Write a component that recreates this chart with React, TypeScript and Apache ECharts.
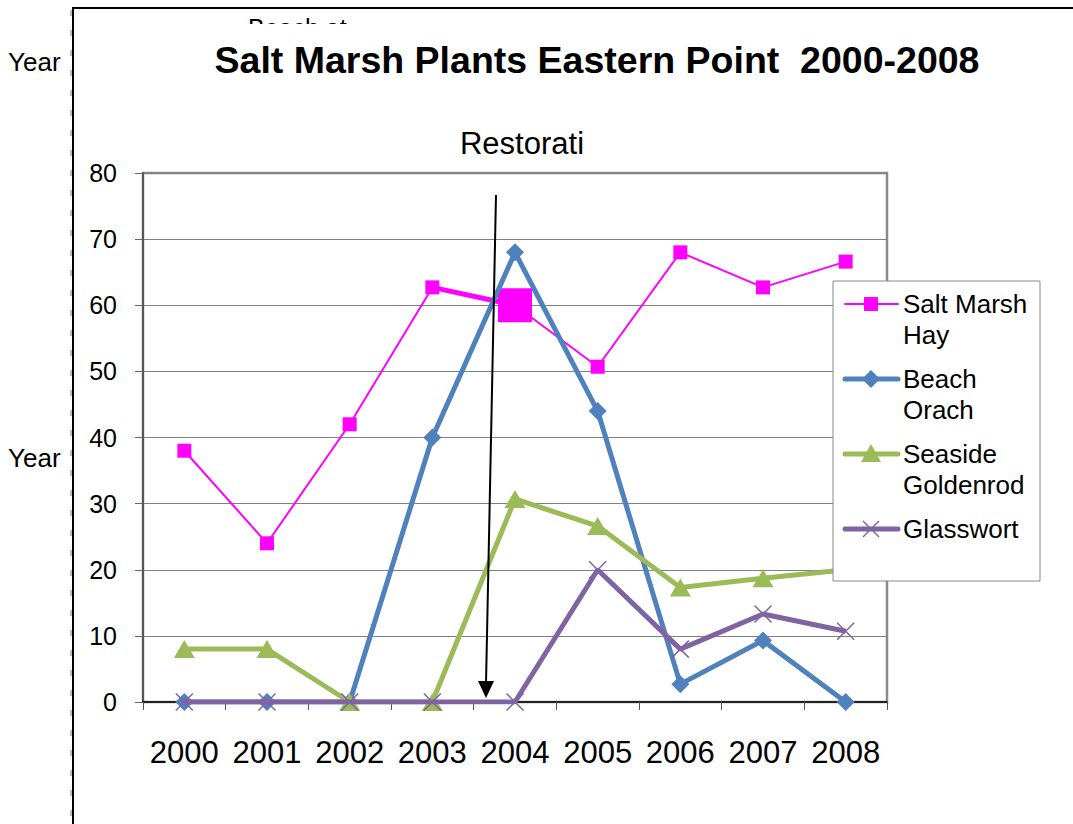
import React, { useEffect, useRef } from "react";
import * as echarts from "echarts";

const years = ["2000", "2001", "2002", "2003", "2004", "2005", "2006", "2007", "2008"];
const saltMarshHay = [38, 24, 42, 62.7, 60, 50.7, 68, 62.7, 66.6];
const beachOrach = [0, 0, 0, 40, 68, 44, 2.7, 9.3, 0];
const seasideGoldenrod = [8, 8, 0, 0, 30.7, 26.6, 17.3, 18.7, 20];
const glasswort = [0, 0, 0, 0, 0, 20, 8, 13.3, 10.7];
const yMin = 0;
const yMax = 80;
const yStep = 10;

const seriesNames = ["Salt Marsh\nHay", "Beach\nOrach", "Seaside\nGoldenrod", "Glasswort"];
const colors = ["#FF00FF", "#4F81BD", "#9BBB59", "#8064A2"];

const FONT = "'Liberation Sans', Arial, sans-serif";

export default function App() {
  const ref = useRef<HTMLDivElement>(null);
  useEffect(() => {
    if (!ref.current) return;
    const chart = echarts.init(ref.current, undefined, { renderer: "svg" });

    const legendX = 833;
    const legendY = 281;
    const rowY = [304, 379, 454, 529];
    const iconX0 = 845;
    const iconX1 = 898;
    const iconC = 871;
    const legendGraphics: any[] = [
      {
        type: "rect",
        z: 100,
        shape: { x: legendX, y: legendY, width: 207, height: 300 },
        style: { fill: "#fff", stroke: "#888", lineWidth: 1 },
      },
    ];
    const widths = [2, 5, 5, 5];
    rowY.forEach((y, i) => {
      legendGraphics.push({
        type: "line",
        z: 101,
        shape: { x1: iconX0, y1: y, x2: iconX1, y2: y },
        style: { stroke: colors[i], lineWidth: widths[i], lineCap: "round" },
      });
      if (i === 0) {
        legendGraphics.push({
          type: "rect",
          z: 102,
          shape: { x: iconC - 7, y: y - 7, width: 14, height: 14 },
          style: { fill: colors[i] },
        });
      } else if (i === 1) {
        legendGraphics.push({
          type: "polygon",
          z: 102,
          shape: { points: [[iconC, y - 9], [iconC + 9, y], [iconC, y + 9], [iconC - 9, y]] },
          style: { fill: colors[i] },
        });
      } else if (i === 2) {
        legendGraphics.push({
          type: "polygon",
          z: 102,
          shape: { points: [[iconC, y - 10], [iconC + 10, y + 8], [iconC - 10, y + 8]] },
          style: { fill: colors[i] },
        });
      } else {
        legendGraphics.push({
          type: "line",
          z: 102,
          shape: { x1: iconC - 8, y1: y - 8, x2: iconC + 8, y2: y + 8 },
          style: { stroke: colors[i], lineWidth: 1.5 },
        });
        legendGraphics.push({
          type: "line",
          z: 102,
          shape: { x1: iconC + 8, y1: y - 8, x2: iconC - 8, y2: y + 8 },
          style: { stroke: colors[i], lineWidth: 1.5 },
        });
      }
      legendGraphics.push({
        type: "text",
        z: 102,
        x: 903,
        y: y - 16,
        style: {
          text: seriesNames[i],
          fontFamily: FONT,
          fontSize: 26,
          lineHeight: 31,
          fill: "#000",
          verticalAlign: "top",
        },
      });
    });

    const option: any = {
      animation: false,
      backgroundColor: "#fff",
      grid: {
        left: 143,
        top: 173,
        width: 744,
        height: 529,
        show: true,
        borderColor: "#8a8a8a",
        borderWidth: 2.5,
        backgroundColor: "transparent",
      },
      xAxis: {
        type: "category",
        data: years,
        boundaryGap: true,
        axisLine: { show: true, lineStyle: { color: "#000", width: 1.5 } },
        axisTick: { show: true, length: 8, interval: 0, lineStyle: { color: "#555" } },
        axisLabel: { fontSize: 31, margin: 35, interval: 0, hideOverlap: false, color: "#000", fontFamily: FONT },
        splitLine: { show: false },
      },
      yAxis: {
        type: "value",
        min: yMin,
        max: yMax,
        interval: yStep,
        axisLine: { show: true, lineStyle: { color: "#444", width: 1.5 } },
        axisTick: { show: true, length: 8, lineStyle: { color: "#666" } },
        axisLabel: { fontSize: 25, margin: 26, color: "#000", fontFamily: FONT },
        splitLine: { show: true, lineStyle: { color: "#808080", width: 1 } },
      },
      series: [
        {
          name: "Salt Marsh Hay",
          type: "line",
          data: saltMarshHay.map((v, i) => (i === 4 ? { value: v, symbolSize: 34 } : v)),
          symbol: "rect",
          symbolSize: 14,
          lineStyle: { color: colors[0], width: 2 },
          itemStyle: { color: colors[0] },
          z: 2,
        },
        {
          name: "Salt Marsh Hay segment",
          type: "line",
          data: saltMarshHay.map((v, i) => (i === 3 || i === 4 ? v : null)),
          showSymbol: false,
          symbol: "none",
          lineStyle: { color: colors[0], width: 5 },
          itemStyle: { color: colors[0] },
          z: 2,
        },
        {
          name: "Beach Orach",
          type: "line",
          data: beachOrach,
          symbol: "diamond",
          symbolSize: 18,
          lineStyle: { color: colors[1], width: 5 },
          itemStyle: { color: colors[1] },
          z: 3,
        },
        {
          name: "Seaside Goldenrod",
          type: "line",
          data: seasideGoldenrod,
          symbol: "triangle",
          symbolSize: [21, 18],
          lineStyle: { color: colors[2], width: 5 },
          itemStyle: { color: colors[2] },
          z: 4,
        },
        {
          name: "Glasswort",
          type: "line",
          data: glasswort,
          symbol: "path://M0,0L16,16M16,0L0,16",
          symbolSize: 17,
          lineStyle: { color: colors[3], width: 5 },
          itemStyle: { color: colors[3], borderColor: colors[3], borderWidth: 1.5 },
          z: 5,
        },
      ],
      graphic: [
        // outer frame
        { type: "line", z: 50, shape: { x1: 73, y1: 8, x2: 73, y2: 824 }, style: { stroke: "#000", lineWidth: 2 } },
        { type: "line", z: 50, shape: { x1: 72, y1: 8, x2: 1073, y2: 8 }, style: { stroke: "#000", lineWidth: 2 } },
        { type: "line", z: 50, shape: { x1: 71, y1: 10, x2: 71, y2: 824 }, style: { stroke: "#777", lineWidth: 1, lineDash: [6, 14] } },
        // clipped text behind title
        {
          type: "text",
          z: 40,
          x: 248,
          y: 15,
          style: { text: "Beach at", fontFamily: FONT, fontSize: 25, fill: "#000", verticalAlign: "top" },
        },
        { type: "rect", z: 41, shape: { x: 180, y: 24, width: 840, height: 60 }, style: { fill: "#fff" } },
        {
          type: "text",
          z: 42,
          x: 597,
          y: 60,
          style: {
            text: "Salt Marsh Plants Eastern Point  2000-2008",
            fontFamily: FONT,
            fontSize: 37.5,
            fontWeight: "bold",
            fill: "#000",
            align: "center",
            verticalAlign: "middle",
          },
        },
        {
          type: "text",
          z: 42,
          x: 8,
          y: 62,
          style: { text: "Year", fontFamily: FONT, fontSize: 26, fill: "#000", verticalAlign: "middle" },
        },
        {
          type: "text",
          z: 42,
          x: 8,
          y: 458,
          style: { text: "Year", fontFamily: FONT, fontSize: 26, fill: "#000", verticalAlign: "middle" },
        },
        {
          type: "text",
          z: 42,
          x: 522,
          y: 143,
          style: { text: "Restorati", fontFamily: FONT, fontSize: 31, fill: "#000", align: "center", verticalAlign: "middle" },
        },
        // arrow
        { type: "line", z: 60, shape: { x1: 496, y1: 195, x2: 486, y2: 684 }, style: { stroke: "#000", lineWidth: 2 } },
        { type: "polygon", z: 60, shape: { points: [[478, 681], [494, 681], [486, 698]] }, style: { fill: "#000" } },
        ...legendGraphics,
      ],
    };
    chart.setOption(option);
    return () => chart.dispose();
  }, []);
  return (
    <div
      ref={ref}
      style={{ position: "fixed", left: 0, top: 0, width: 1073, height: 824, background: "#fff" }}
    />
  );
}
